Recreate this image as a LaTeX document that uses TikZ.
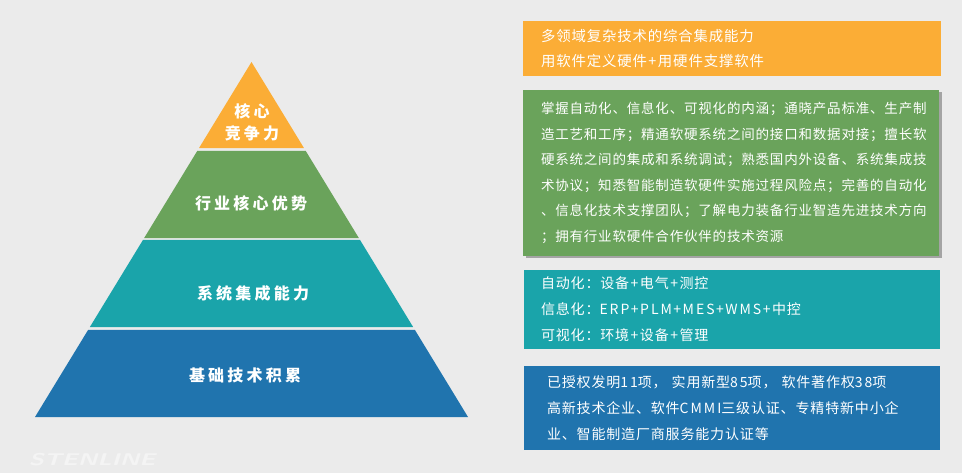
\documentclass[tikz,border=0pt]{standalone}
\usepackage{fontspec}
\setmainfont{Noto Sans CJK SC}
\newfontfamily\cjk[LetterSpace=6]{Noto Sans CJK SC}
\newfontfamily\cjklat[LetterSpace=14]{Noto Sans CJK SC}
\newfontfamily\cjkwide[LetterSpace=20]{Noto Sans CJK SC}
\usepackage{tikz}
\usetikzlibrary{calc}
\usetikzlibrary{shadows}

\definecolor{bgGrey}{RGB}{235,235,235}
\definecolor{markGrey}{RGB}{244,244,244}
\definecolor{layerOrange}{RGB}{251,173,54}
\definecolor{layerGreen}{RGB}{106,163,91}
\definecolor{layerTeal}{RGB}{26,164,170}
\definecolor{layerBlue}{RGB}{32,116,174}

\newcommand\lat[1]{{\cjklat #1}}
\newcommand\plus{\lat{\kern1.5pt+\kern1.5pt}}

\begin{document}
\begin{tikzpicture}[x=1pt,y=-1pt]
   \fill[bgGrey] (0,0) rectangle (962,473);
   \useasboundingbox (0,0) rectangle (962,473);

   \coordinate (apex) at (251.5,62);
   \coordinate (bl) at (35,417);
   \coordinate (br) at (468,417);

   \foreach \ta/\tb/\col in {0/0.2423/layerOrange,0.2507/0.4958/layerGreen,0.5014/0.7465/layerTeal,0.7549/1/layerBlue}
   \fill[\col] ($(apex)!\ta!(bl)$) -- ($(apex)!\ta!(br)$) -- ($(apex)!\tb!(br)$) -- ($(apex)!\tb!(bl)$) -- cycle;

   \node[name=core, style={
      text = white,
      align = center,
      font = \cjkwide\bfseries\fontsize{16}{22}\selectfont
   }] at (252,122) {核心\\竞争力};

   \node[name=edge, style={
      text = white,
      font = \cjkwide\bfseries\fontsize{16}{22}\selectfont
   }] at (251,203) {行业核心优势};

   \node[name=integ, style={
      text = white,
      font = \cjkwide\bfseries\fontsize{16}{22}\selectfont
   }] at (253,293) {系统集成能力};

   \node[name=base, style={
      text = white,
      font = \cjkwide\bfseries\fontsize{16}{22}\selectfont
   }] at (245,375) {基础技术积累};

   \node[name=coreBox, style={
      fill = layerOrange,
      text = white,
      minimum width = 418pt,
      minimum height = 55pt,
      inner xsep = 18pt,
      text width = 382pt,
      align = left,
      font = \cjk\fontsize{14.4}{25}\selectfont
   }] at (732,48.5) {多领域复杂技术的综合集成能力\\用软件定义硬件\plus 用硬件支撑软件};

   \node[name=edgeBox, style={
      fill = layerGreen,
      text = white,
      drop shadow = {shadow xshift=2.5pt, shadow yshift=-2.5pt, opacity=0.3, fill=black},
      minimum width = 416pt,
      minimum height = 166pt,
      inner xsep = 18pt,
      text width = 380pt,
      align = left,
      font = \cjk\fontsize{13.5}{25.5}\selectfont
   }] at (731,173) {掌握自动化、信息化、可视化的内涵；通晓产品标准、生产制\\
      造工艺和工序；精通软硬系统之间的接口和数据对接；擅长软\\
      硬系统之间的集成和系统调试；熟悉国内外设备、系统集成技\\
      术协议；知悉智能制造软硬件实施过程风险点；完善的自动化\\
      、信息化技术支撑团队；了解电力装备行业智造先进技术方向\\
      ；拥有行业软硬件合作伙伴的技术资源};

   \node[name=integBox, style={
      fill = layerTeal,
      text = white,
      minimum width = 416pt,
      minimum height = 79pt,
      inner xsep = 17pt,
      text width = 382pt,
      align = left,
      font = \cjk\fontsize{14}{26}\selectfont
   }] at (732,309.5) {自动化：设备\plus 电气\plus 测控\\
      信息化：\lat{ERP\plus PLM\plus MES\plus WMS\plus}中控\\
      可视化：环境\plus 设备\plus 管理};

   \node[name=baseBox, style={
      fill = layerBlue,
      text = white,
      minimum width = 416pt,
      minimum height = 84pt,
      inner xsep = 23pt,
      text width = 370pt,
      align = left,
      font = \cjk\fontsize{14}{26}\selectfont
   }] at (732,408) {已授权发明\lat{11}项，\kern5pt 实用新型\lat{85}项，\kern5pt 软件著作权\lat{38}项\\
      高新技术企业、软件\lat{CMMI}三级认证、专精特新中小企\\
      业、智能制造厂商服务能力认证等};

   \node[name=mark, style={
      text = markGrey,
      font = \sffamily\bfseries\slshape\fontsize{17}{17}\selectfont
   }] at (92,460) {\scalebox{1.45}[1]{STENLINE}};
\end{tikzpicture}
\end{document}
